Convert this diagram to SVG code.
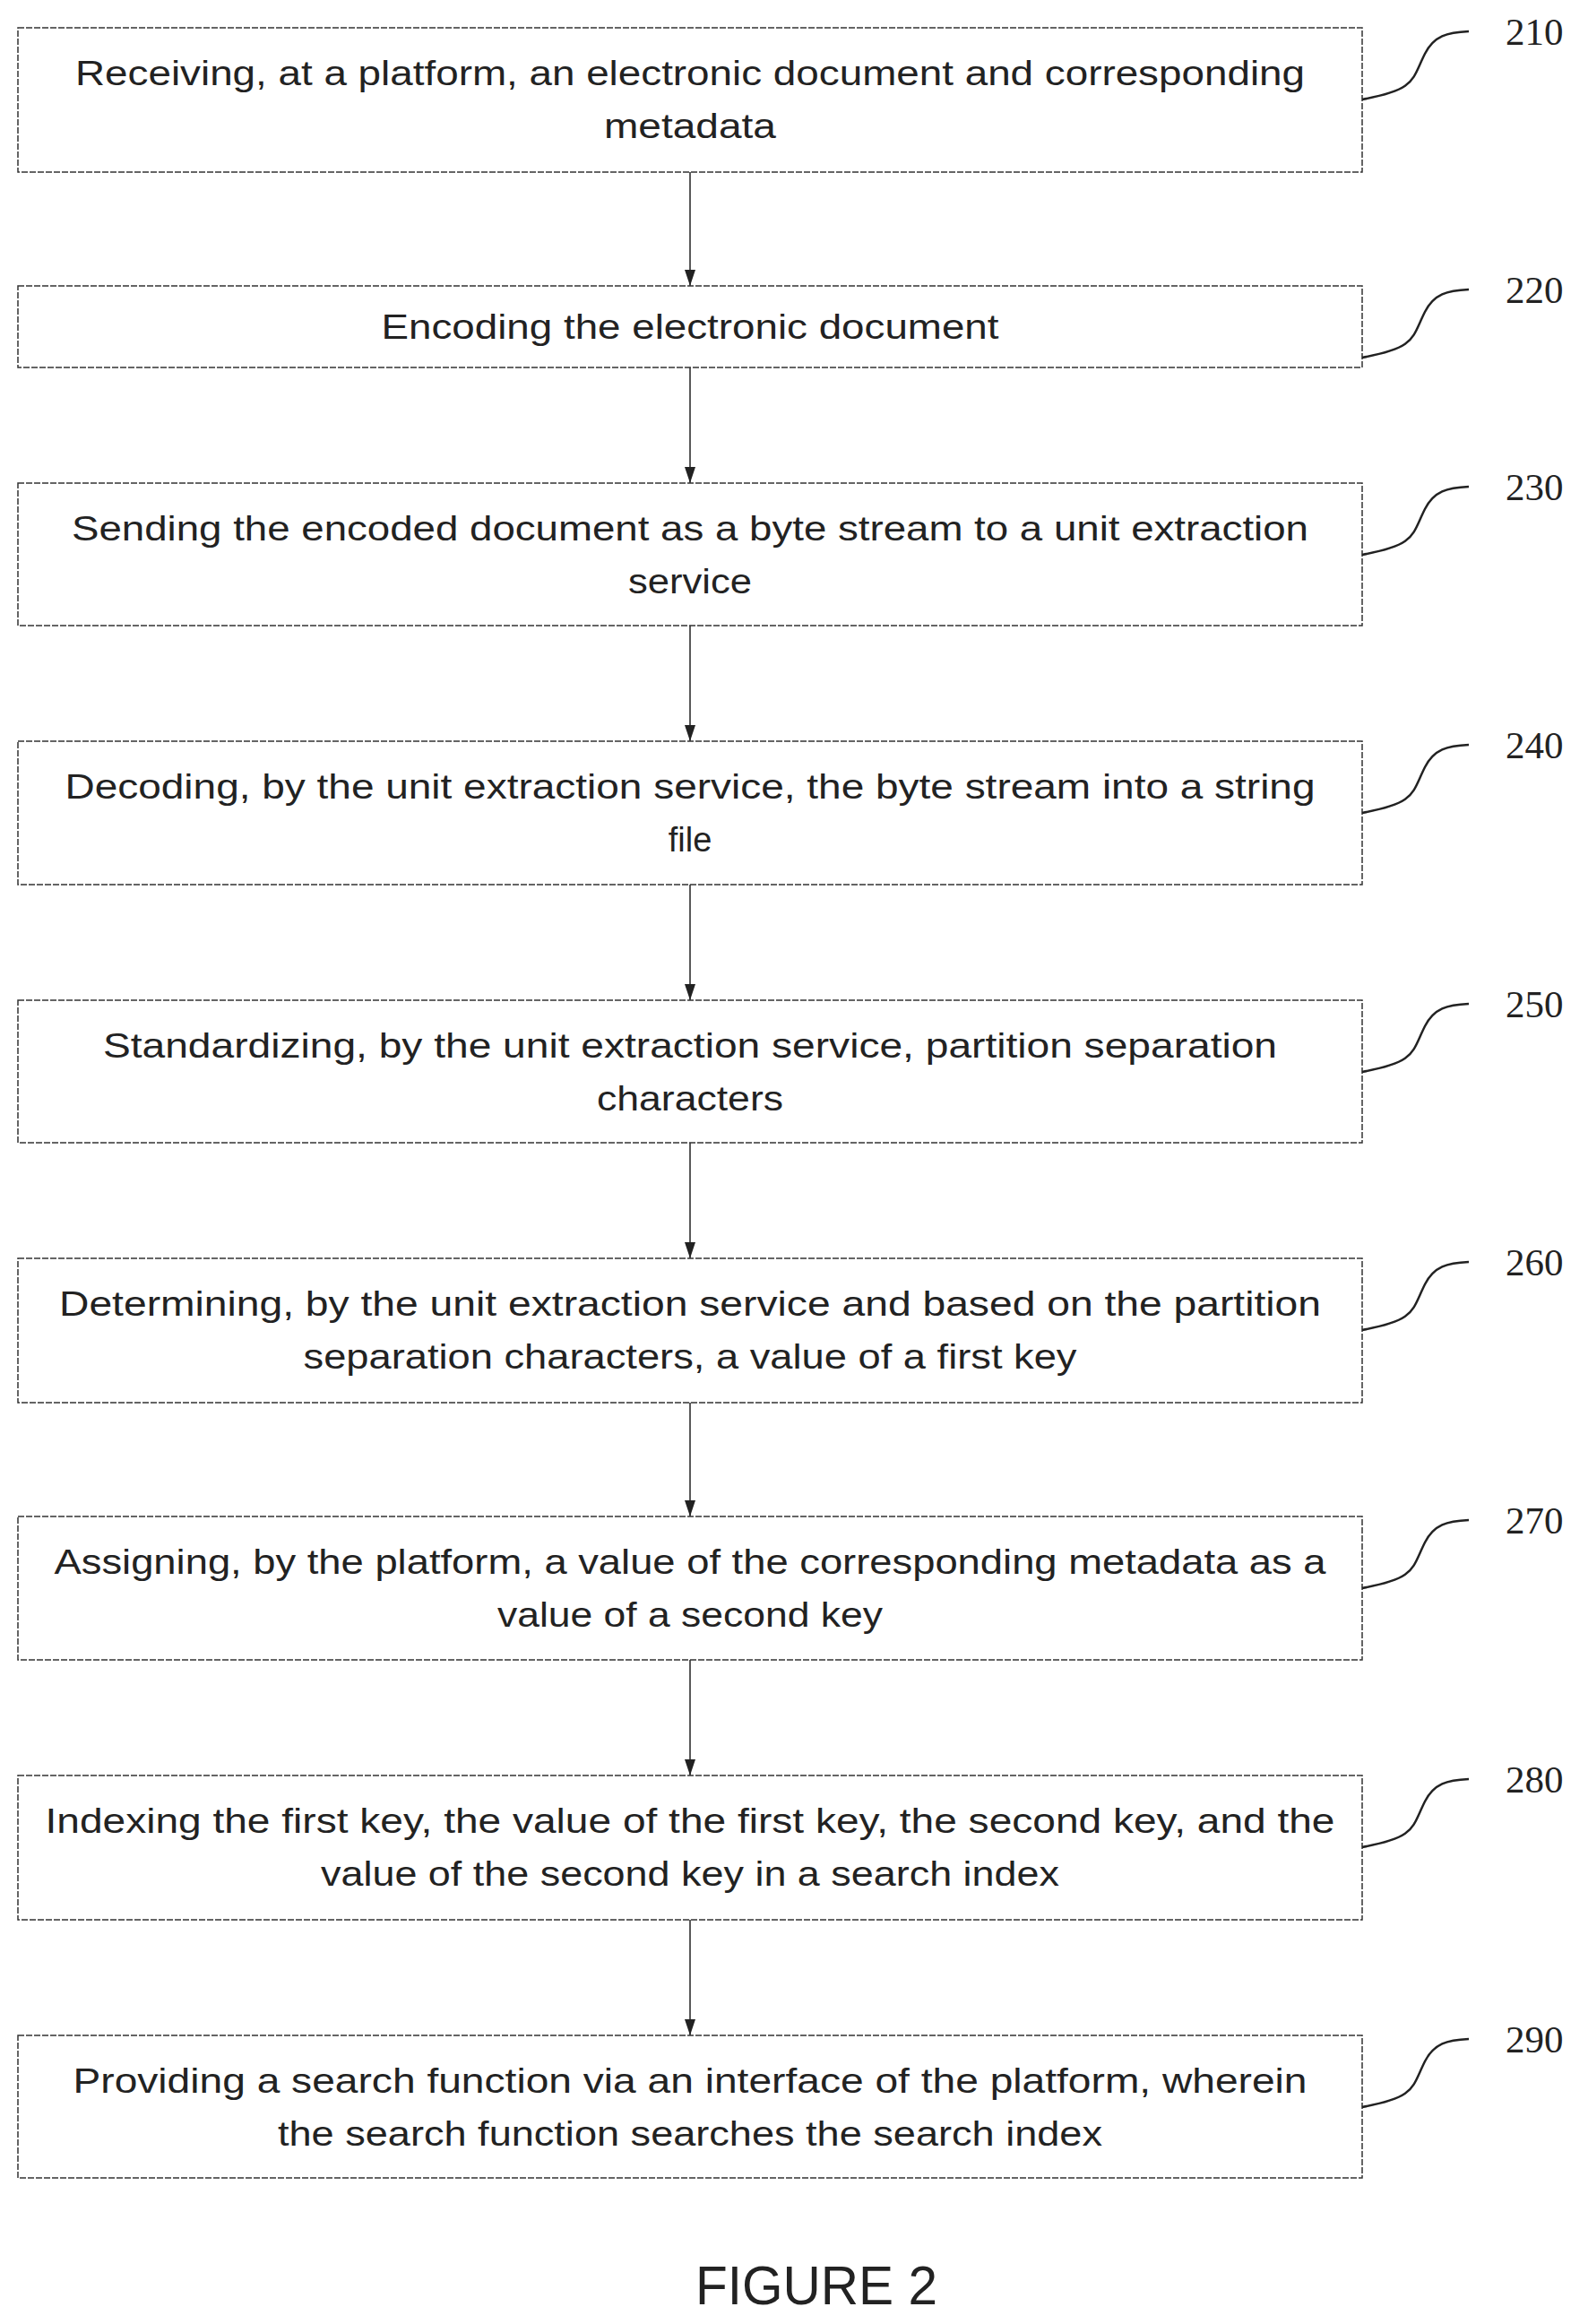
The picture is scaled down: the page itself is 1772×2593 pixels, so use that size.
<svg xmlns="http://www.w3.org/2000/svg" width="1772" height="2593" viewBox="0 0 1772 2593">
<style>
.box{fill:#fff;stroke:#333;stroke-width:1.5;stroke-dasharray:7 2}
.t{font-family:"Liberation Sans",Arial,sans-serif;font-size:38px;fill:#222;text-anchor:middle}
.n{font-family:"Liberation Serif",serif;font-size:43px;fill:#222}
.c{fill:none;stroke:#222;stroke-width:2.5}
.a{stroke:#222;stroke-width:1.5;marker-end:url(#ah)}
</style>
<defs><marker id="ah" markerWidth="18" markerHeight="12" refX="18" refY="6" orient="auto" markerUnits="userSpaceOnUse"><path d="M0,0 L18,6 L0,12 Z" fill="#222"/></marker></defs>
<g id="connectors">
<line class="a" x1="770" y1="192" x2="770" y2="319"/>
<line class="a" x1="770" y1="410" x2="770" y2="539"/>
<line class="a" x1="770" y1="698" x2="770" y2="827"/>
<line class="a" x1="770" y1="987" x2="770" y2="1116"/>
<line class="a" x1="770" y1="1275" x2="770" y2="1404"/>
<line class="a" x1="770" y1="1565" x2="770" y2="1692"/>
<line class="a" x1="770" y1="1852" x2="770" y2="1981"/>
<line class="a" x1="770" y1="2142" x2="770" y2="2271"/>
</g>
<g id="n210"><rect class="box" x="20" y="31" width="1500" height="161"/>
<text class="t" x="770" y="95" textLength="1372" lengthAdjust="spacingAndGlyphs">Receiving, at a platform, an electronic document and corresponding</text>
<text class="t" x="770" y="154" textLength="192" lengthAdjust="spacingAndGlyphs">metadata</text>
<path class="c" d="M1520,111 C1580,100 1575,90 1590,60 C1600,40 1615,36 1639,35"/><text class="n" x="1680" y="50">210</text></g>
<g id="n220"><rect class="box" x="20" y="319" width="1500" height="91"/>
<text class="t" x="770" y="378" textLength="689" lengthAdjust="spacingAndGlyphs">Encoding the electronic document</text>
<path class="c" d="M1520,399 C1580,388 1575,378 1590,348 C1600,328 1615,324 1639,323"/><text class="n" x="1680" y="338">220</text></g>
<g id="n230"><rect class="box" x="20" y="539" width="1500" height="159"/>
<text class="t" x="770" y="603" textLength="1380" lengthAdjust="spacingAndGlyphs">Sending the encoded document as a byte stream to a unit extraction</text>
<text class="t" x="770" y="662" textLength="138" lengthAdjust="spacingAndGlyphs">service</text>
<path class="c" d="M1520,619 C1580,608 1575,598 1590,568 C1600,548 1615,544 1639,543"/><text class="n" x="1680" y="558">230</text></g>
<g id="n240"><rect class="box" x="20" y="827" width="1500" height="160"/>
<text class="t" x="770" y="891" textLength="1395" lengthAdjust="spacingAndGlyphs">Decoding, by the unit extraction service, the byte stream into a string</text>
<text class="t" x="770" y="950">file</text>
<path class="c" d="M1520,907 C1580,896 1575,886 1590,856 C1600,836 1615,832 1639,831"/><text class="n" x="1680" y="846">240</text></g>
<g id="n250"><rect class="box" x="20" y="1116" width="1500" height="159"/>
<text class="t" x="770" y="1180" textLength="1310" lengthAdjust="spacingAndGlyphs">Standardizing, by the unit extraction service, partition separation</text>
<text class="t" x="770" y="1239" textLength="208" lengthAdjust="spacingAndGlyphs">characters</text>
<path class="c" d="M1520,1196 C1580,1185 1575,1175 1590,1145 C1600,1125 1615,1121 1639,1120"/><text class="n" x="1680" y="1135">250</text></g>
<g id="n260"><rect class="box" x="20" y="1404" width="1500" height="161"/>
<text class="t" x="770" y="1468" textLength="1408" lengthAdjust="spacingAndGlyphs">Determining, by the unit extraction service and based on the partition</text>
<text class="t" x="770" y="1527" textLength="863" lengthAdjust="spacingAndGlyphs">separation characters, a value of a first key</text>
<path class="c" d="M1520,1484 C1580,1473 1575,1463 1590,1433 C1600,1413 1615,1409 1639,1408"/><text class="n" x="1680" y="1423">260</text></g>
<g id="n270"><rect class="box" x="20" y="1692" width="1500" height="160"/>
<text class="t" x="770" y="1756" textLength="1419" lengthAdjust="spacingAndGlyphs">Assigning, by the platform, a value of the corresponding metadata as a</text>
<text class="t" x="770" y="1815" textLength="430" lengthAdjust="spacingAndGlyphs">value of a second key</text>
<path class="c" d="M1520,1772 C1580,1761 1575,1751 1590,1721 C1600,1701 1615,1697 1639,1696"/><text class="n" x="1680" y="1711">270</text></g>
<g id="n280"><rect class="box" x="20" y="1981" width="1500" height="161"/>
<text class="t" x="770" y="2045" textLength="1439" lengthAdjust="spacingAndGlyphs">Indexing the first key, the value of the first key, the second key, and the</text>
<text class="t" x="770" y="2104" textLength="824" lengthAdjust="spacingAndGlyphs">value of the second key in a search index</text>
<path class="c" d="M1520,2061 C1580,2050 1575,2040 1590,2010 C1600,1990 1615,1986 1639,1985"/><text class="n" x="1680" y="2000">280</text></g>
<g id="n290"><rect class="box" x="20" y="2271" width="1500" height="159"/>
<text class="t" x="770" y="2335" textLength="1377" lengthAdjust="spacingAndGlyphs">Providing a search function via an interface of the platform, wherein</text>
<text class="t" x="770" y="2394" textLength="920" lengthAdjust="spacingAndGlyphs">the search function searches the search index</text>
<path class="c" d="M1520,2351 C1580,2340 1575,2330 1590,2300 C1600,2280 1615,2276 1639,2275"/><text class="n" x="1680" y="2290">290</text></g>
<text id="fig" x="911" y="2571" font-family="Liberation Sans,Arial,sans-serif" font-size="62" fill="#222" text-anchor="middle" textLength="270" lengthAdjust="spacingAndGlyphs">FIGURE 2</text>
</svg>
